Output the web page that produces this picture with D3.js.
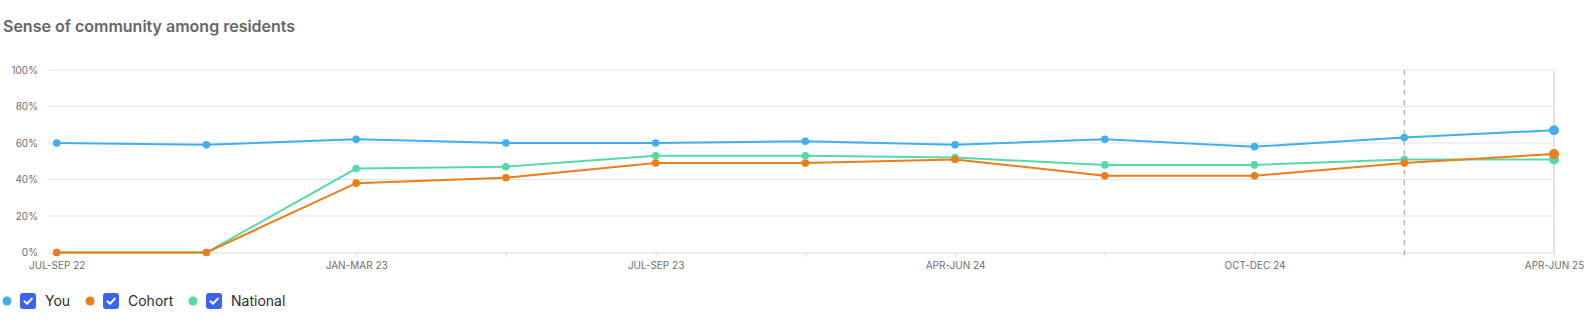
<!DOCTYPE html>
<html>
<head>
<meta charset="utf-8">
<script src="https://cdn.jsdelivr.net/npm/d3@7"></script>
<style>
  html, body { margin: 0; padding: 0; background: #fff; }
  svg { display: block; font-family: Inter, "Noto Sans", sans-serif; }
</style>
</head>
<body>
<svg id="chart" width="1595" height="327"></svg>
<script>
const title = "Sense of community among residents";
const categories = ["JUL-SEP 22", "OCT-DEC 22", "JAN-MAR 23", "APR-JUN 23", "JUL-SEP 23", "JAN-MAR 24",
                    "APR-JUN 24", "JUL-SEP 24", "OCT-DEC 24", "JAN-MAR 25", "APR-JUN 25"];
const shownLabels = ["JUL-SEP 22", "JAN-MAR 23", "JUL-SEP 23", "APR-JUN 24", "OCT-DEC 24", "APR-JUN 25"];
const youValues      = [60, 59, 62, 60, 60, 61, 59, 62, 58, 63, 67];
const cohortValues   = [0, 0, 38, 41, 49, 49, 51, 42, 42, 49, 54];
const nationalValues = [0, 0, 46, 47, 53, 53, 52, 48, 48, 51, 51];
const yTicks = [0, 20, 40, 60, 80, 100];
const markerCategory = "JAN-MAR 25";
const seriesNames = ["You", "Cohort", "National"];
const seriesColors = ["#41aef2", "#ec7d1a", "#56d9a9"];

const series = [
  { name: seriesNames[0], values: youValues, color: seriesColors[0] },
  { name: seriesNames[1], values: cohortValues, color: seriesColors[1] },
  { name: seriesNames[2], values: nationalValues, color: seriesColors[2] }
];

const svg = d3.select("#chart");
const gridLeft = 48, xLeft = 56.7, xRight = 1554, yTop = 70, yBottom = 252.5;

const x = d3.scalePoint().domain(categories).range([xLeft, xRight]);
const y = d3.scaleLinear().domain([0, 100]).range([yBottom, yTop]);

// title
svg.append("text").attr("x", 3).attr("y", 32)
  .attr("font-size", 16).attr("font-weight", 600).attr("fill", "#666")
  .text(title);

// grid lines
svg.append("g").selectAll("line").data(yTicks.filter(d => d > 0)).join("line")
  .attr("x1", gridLeft).attr("x2", xRight)
  .attr("y1", d => y(d)).attr("y2", d => y(d))
  .attr("stroke", "#e3e3e3").attr("stroke-width", 1);

// y axis labels
const yAxis = d3.axisLeft(y).tickValues(yTicks).tickFormat(d => d + "%").tickSize(0).tickPadding(0);
const gy = svg.append("g").attr("transform", `translate(38,0)`).call(yAxis);
gy.select(".domain").remove();
gy.selectAll("text").attr("font-size", 10).attr("fill", "#6e6e6e").attr("font-family", "Inter, sans-serif");

// right border
svg.append("line").attr("x1", xRight).attr("x2", xRight).attr("y1", yTop).attr("y2", yBottom)
  .attr("stroke", "#e3e3e3").attr("stroke-width", 2);

// x axis
const xAxis = d3.axisBottom(x).tickSize(4).tickPadding(5)
  .tickFormat(d => shownLabels.includes(d) ? d : "");
const gx = svg.append("g").attr("transform", `translate(0,${yBottom})`).call(xAxis);
gx.select(".domain").attr("d", `M${gridLeft},0.5H${xRight}`).attr("stroke", "#dcdcdc");
gx.selectAll(".tick line").attr("stroke", "#dcdcdc");
gx.selectAll("text").attr("font-size", 10).attr("fill", "#6e6e6e").attr("font-family", "Inter, sans-serif");

// dashed marker line
svg.append("line").attr("x1", x(markerCategory)).attr("x2", x(markerCategory))
  .attr("y1", yTop).attr("y2", yBottom + 4)
  .attr("stroke", "#9a9a9a").attr("stroke-width", 1).attr("stroke-dasharray", "5,5");

// lines & points
const line = d3.line().x((d, i) => x(categories[i])).y(d => y(d));
series.slice().reverse().forEach(s => {
  svg.append("path").datum(s.values).attr("d", line)
    .attr("fill", "none").attr("stroke", s.color).attr("stroke-width", 2);
  svg.append("g").selectAll("circle").data(s.values).join("circle")
    .attr("cx", (d, i) => x(categories[i])).attr("cy", d => y(d))
    .attr("r", (d, i) => i === categories.length - 1 ? 5 : 3.8)
    .attr("fill", s.color);
});

// legend
const legendStarts = [7, 90, 193];
const legend = svg.append("g");
series.forEach((s, i) => {
  const g = legend.append("g").attr("transform", `translate(${legendStarts[i]},301)`);
  g.append("circle").attr("cx", 0).attr("cy", 0).attr("r", 4.5).attr("fill", s.color);
  g.append("rect").attr("x", 13).attr("y", -8).attr("width", 16).attr("height", 16)
    .attr("rx", 3).attr("fill", "#3a62f5");
  g.append("path").attr("d", "M17.5,0.3 L20,2.8 L24.8,-2.4")
    .attr("fill", "none").attr("stroke", "#fff").attr("stroke-width", 2)
    .attr("stroke-linecap", "round").attr("stroke-linejoin", "round");
  g.append("text").attr("x", 38).attr("y", 5).attr("font-size", 14).attr("fill", "#2b2b2b")
    .text(s.name);
});
</script>
</body>
</html>
